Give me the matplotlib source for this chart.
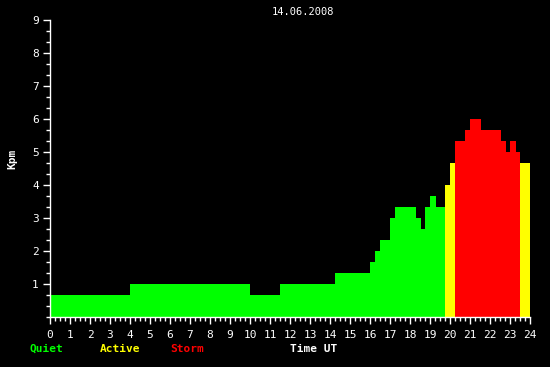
import matplotlib
matplotlib.use("Agg")
import matplotlib.pyplot as plt
import numpy as np
from matplotlib.ticker import MultipleLocator

# Data: step edges (hours UT) and Kpm values
time_edges = [0, 4, 10, 11.5, 14.25, 16, 16.25, 16.5, 17, 17.25, 18.3, 18.55,
              18.75, 19, 19.3, 19.75, 20, 20.25, 20.75, 21, 21.55, 22.55, 22.8,
              23, 23.3, 23.5, 24]
kpm_values = [0.667, 1, 0.667, 1, 1.333, 1.667, 2, 2.333, 3, 3.333, 3, 2.667,
              3.333, 3.667, 3.333, 4, 4.667, 5.333, 5.667, 6, 5.667, 5.333, 5,
              5.333, 5, 4.667]
date_label = "14.06.2008"
x_ticks = list(range(0, 25))
y_ticks = list(range(1, 10))

W, H = 550, 367
fig = plt.figure(figsize=(W / 100, H / 100), dpi=100, facecolor="black")
ax = fig.add_axes([50 / W, (H - 317) / H, 480 / W, 297 / H], facecolor="black")

def level_color(v):
    if v >= 5:
        return "#ff0000"
    if v >= 4:
        return "#ffff00"
    return "#00ff00"

starts = np.array(time_edges[:-1])
widths = np.diff(time_edges)
ax.bar(starts, kpm_values, width=widths, align="edge",
       color=[level_color(v) for v in kpm_values], linewidth=0)

ax.set_xlim(0, 24)
ax.set_ylim(0, 9)
for s in ["top", "right"]:
    ax.spines[s].set_visible(False)
for s in ["left", "bottom"]:
    ax.spines[s].set_color("white")
    ax.spines[s].set_linewidth(1)

mono = "DejaVu Sans Mono"
ax.set_xticks(x_ticks)
ax.set_yticks(y_ticks)
ax.xaxis.set_minor_locator(MultipleLocator(0.25))
ax.yaxis.set_minor_locator(MultipleLocator(1 / 3))
ax.tick_params(which="major", colors="white", length=5, width=1, direction="out",
               labelsize=8, pad=4)
ax.tick_params(which="minor", colors="white", length=3, width=1, direction="out")
ax.tick_params(axis="y", which="major", pad=3)
for lbl in ax.get_xticklabels() + ax.get_yticklabels():
    lbl.set_fontfamily(mono)
    lbl.set_color("white")

def ftext(x, y, s, **kw):
    fig.text(x / W, 1 - y / H, s, family=mono, **kw)

ftext(303, 12, date_label, color="white", fontsize=7.5, ha="center", va="center")
ftext(12, 159, "Kpm", color="white", fontsize=8, fontweight="bold",
      rotation=90, ha="center", va="center")
ftext(30, 349, "Quiet", color="#00ff00", fontsize=8, fontweight="bold", va="center")
ftext(100, 349, "Active", color="#ffff00", fontsize=8, fontweight="bold", va="center")
ftext(170, 349, "Storm", color="#ff0000", fontsize=8, fontweight="bold", va="center")
ftext(290, 349, "Time UT", color="white", fontsize=8, fontweight="bold", va="center")

fig.savefig("out.png", dpi=100, facecolor="black")
